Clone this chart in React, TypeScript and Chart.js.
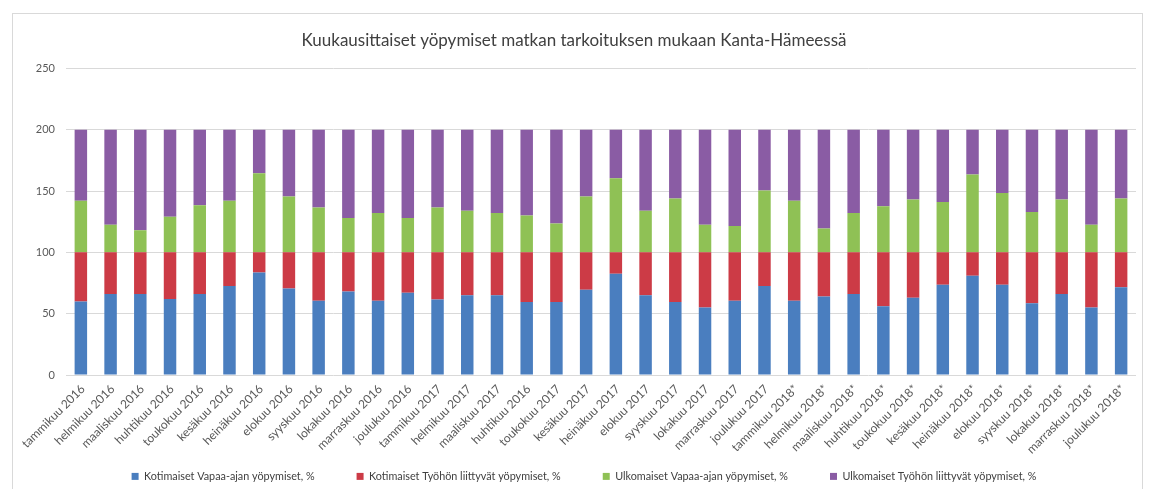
import React, { useEffect, useRef } from "react";
import { Chart, registerables } from "chart.js";

Chart.register(...registerables);

const categories = [
  "tammikuu 2016", "helmikuu 2016", "maaliskuu 2016", "huhtikuu 2016", "toukokuu 2016", "kesäkuu 2016",
  "heinäkuu 2016", "elokuu 2016", "syyskuu 2016", "lokakuu 2016", "marraskuu 2016", "joulukuu 2016",
  "tammikuu 2017", "helmikuu 2017", "maaliskuu 2017", "huhtikuu 2016", "toukokuu 2017", "kesäkuu 2017",
  "heinäkuu 2017", "elokuu 2017", "syyskuu 2017", "lokakuu 2017", "marraskuu 2017", "joulukuu 2017",
  "tammikuu 2018*", "helmikuu 2018*", "maaliskuu 2018*", "huhtikuu 2018*", "toukokuu 2018*", "kesäkuu 2018*",
  "heinäkuu 2018*", "elokuu 2018*", "syyskuu 2018*", "lokakuu 2018*", "marraskuu 2018*", "joulukuu 2018*",
];

const kotimaisetVapaa = [60, 66, 66, 62, 66, 72.5, 83.5, 70.5, 60.5, 68, 60.5, 67, 61.5, 65, 65, 59.5, 59.5, 69.5, 82.5, 65, 59.5, 55, 60.5, 72.5, 60.5, 64, 66, 56, 63, 73.5, 81, 73.5, 58.5, 66, 55, 71.5];
const kotimaisetTyo = [40, 34, 34, 38, 34, 27.5, 16.5, 29.5, 39.5, 32, 39.5, 33, 38.5, 35, 35, 40.5, 40.5, 30.5, 17.5, 35, 40.5, 45, 39.5, 27.5, 39.5, 36, 34, 44, 37, 26.5, 19, 26.5, 41.5, 34, 45, 28.5];
const ulkomaisetVapaa = [42, 22.5, 18, 29, 38.5, 42, 64.5, 45.5, 36.5, 28, 32, 28, 36.5, 34, 32, 30, 23.5, 45.5, 60.5, 34, 44, 22.5, 21.5, 50.5, 42, 19.5, 32, 37.5, 43, 41, 63.5, 48.5, 33, 43, 22.5, 44];
const ulkomaisetTyo = [58, 77.5, 82, 71, 61.5, 58, 35.5, 54.5, 63.5, 72, 68, 72, 63.5, 66, 68, 70, 76.5, 54.5, 39.5, 66, 56, 77.5, 78.5, 49.5, 58, 80.5, 68, 62.5, 57, 59, 36.5, 51.5, 67, 57, 77.5, 56];

const seriesNames = [
  "Kotimaiset Vapaa-ajan yöpymiset, %",
  "Kotimaiset Työhön liittyvät yöpymiset, %",
  "Ulkomaiset Vapaa-ajan yöpymiset, %",
  "Ulkomaiset Työhön liittyvät yöpymiset, %",
];
const seriesColors = ["#4A7EBF", "#CC3B46", "#8FC155", "#8A5CA4"];
const titleText = "Kuukausittaiset yöpymiset matkan tarkoituksen mukaan Kanta-Hämeessä";

const FONT = "Lato, 'Liberation Sans', sans-serif";
const legendPadding = 42;
const legendBoxHeight = 32;
const legendShiftX = 10;

// Legend with wide horizontal gaps but a compact box (not clipped to its box).
const legendFitPlugin = {
  id: "legendFit",
  beforeInit(chart: any) {
    const lg = chart.legend;
    if (!lg) return;
    const origFit = lg.fit.bind(lg);
    lg.fit = () => {
      origFit();
      lg.height = legendBoxHeight;
    };
    const origDraw = lg.draw.bind(lg);
    lg.draw = () => {
      if (typeof lg._draw === "function") {
        if (!lg.options.display) return;
        const ctx = chart.ctx;
        ctx.save();
        ctx.translate(legendShiftX, 0);
        lg._draw();
        ctx.restore();
      } else {
        origDraw();
      }
    };
  },
};

// Category labels rotated 45°, anchored at each category tick of the x scale.
const rotatedLabelsPlugin = {
  id: "rotatedLabels",
  afterDraw(chart: any) {
    const xs = chart.scales.x;
    const ctx = chart.ctx;
    ctx.save();
    ctx.fillStyle = "#595959";
    ctx.font = `12px ${FONT}`;
    ctx.textAlign = "right";
    ctx.textBaseline = "middle";
    const labels: string[] = chart.data.labels;
    labels.forEach((lab, i) => {
      const x = xs.getPixelForTick(i) + 2;
      const y = xs.top + 12;
      ctx.save();
      ctx.translate(x, y);
      ctx.rotate(-Math.PI / 4);
      ctx.fillText(lab, 0, 0);
      ctx.restore();
    });
    ctx.restore();
  },
};

export default function App() {
  const ref = useRef<HTMLCanvasElement | null>(null);

  useEffect(() => {
    if (!ref.current) return;
    const values = [kotimaisetVapaa, kotimaisetTyo, ulkomaisetVapaa, ulkomaisetTyo];
    const chart = new Chart(ref.current, {
      type: "bar",
      data: {
        labels: categories,
        datasets: values.map((v, i) => ({
          label: seriesNames[i],
          data: v,
          backgroundColor: seriesColors[i],
          borderWidth: 0,
          barPercentage: 0.42,
          categoryPercentage: 1,
        })),
      },
      plugins: [legendFitPlugin, rotatedLabelsPlugin],
      options: {
        responsive: false,
        animation: false,
        layout: { padding: { left: 12, right: 17, top: 14, bottom: 28 } },
        plugins: {
          title: {
            display: true,
            text: titleText,
            color: "#404040",
            font: { family: FONT, size: 17, weight: "normal" },
            padding: { top: 16, bottom: 18 },
          },
          legend: {
            position: "bottom",
            labels: {
              color: "#404040",
              font: { family: FONT, size: 10.8 },
              boxWidth: 7,
              boxHeight: 7,
              padding: legendPadding,
            },
          },
          tooltip: { enabled: false },
        },
        scales: {
          x: {
            stacked: true,
            grid: { display: false, drawTicks: false },
            border: { display: false },
            ticks: { display: false },
            afterFit: (s: any) => {
              s.height = 54;
            },
          },
          y: {
            stacked: true,
            min: 0,
            max: 250,
            ticks: {
              stepSize: 50,
              padding: 11,
              color: "#595959",
              font: { family: FONT, size: 11 },
            },
            grid: { color: "#D9D9D9", drawTicks: false, lineWidth: 1 },
            border: { display: false },
            afterFit: (s: any) => {
              s.width = 54;
            },
          },
        },
      },
    });
    return () => chart.destroy();
  }, []);

  return (
    <div style={{ position: "fixed", left: 0, top: 0, width: 1153, height: 489, background: "#fff", overflow: "hidden" }}>
      <div
        style={{
          position: "absolute",
          left: 12,
          top: 13,
          width: 1131,
          height: 500,
          border: "1px solid #D9D9D9",
          boxSizing: "border-box",
        }}
      />
      <canvas ref={ref} width={1153} height={489} style={{ position: "absolute", left: 0, top: 0 }} />
    </div>
  );
}
